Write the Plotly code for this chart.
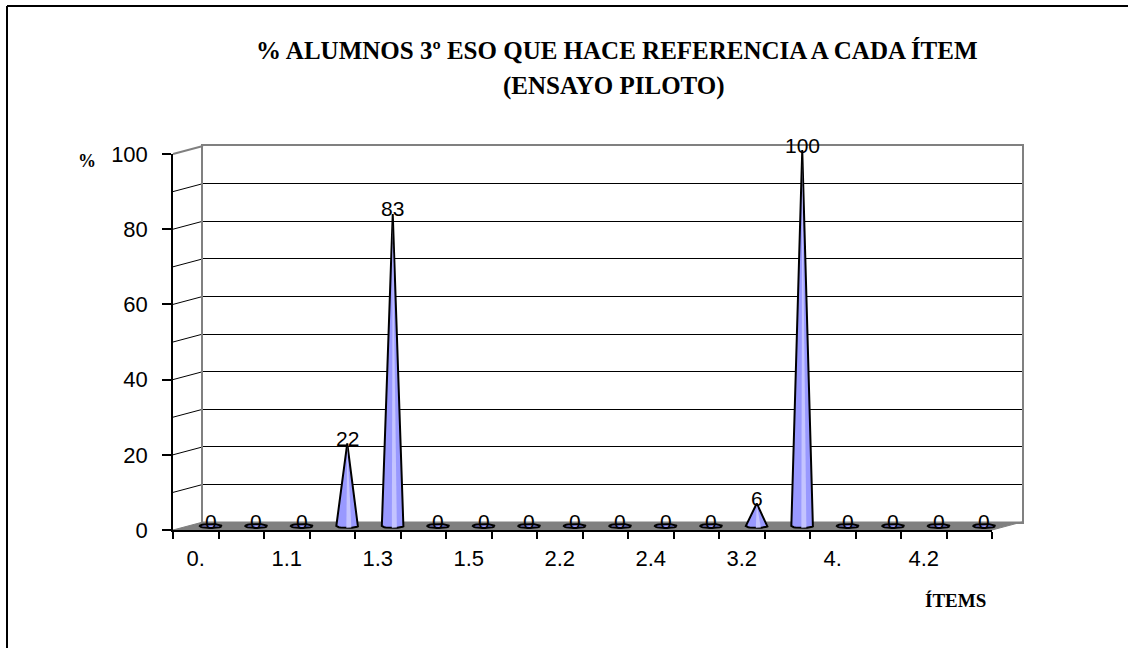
import numpy as np
import plotly.graph_objects as go

# ---- data -------------------------------------------------------------
categories = ["0.", "1.", "1.1", "1.2", "1.3", "1.4", "1.5", "2.1", "2.2",
              "2.3", "2.4", "3.1", "3.2", "3.3", "4.", "4.1", "4.2", "4.3"]
percentages = [0, 0, 0, 22, 83, 0, 0, 0, 0, 0, 0, 0, 6, 100, 0, 0, 0, 0]
y_tick_values = [0, 20, 40, 60, 80, 100]

title_line1 = "% ALUMNOS 3º ESO QUE HACE REFERENCIA A CADA ÍTEM"
title_line2 = "(ENSAYO PILOTO)"
y_title = "%"
x_title = "ÍTEMS"

# ---- page geometry (pixels) ------------------------------------------
W, H = 1128, 648
PX_PER_UNIT = 3.76            # vertical pixels per percentage point
DEPTH_DX, DEPTH_DY = 30, -8   # offset from front plane to back wall

FRONT_X0, FRONT_X1 = 173, 992
FRONT_Y0 = 530                # pixel row of value 0 on the front plane
BACK_X0, BACK_X1 = FRONT_X0 + DEPTH_DX, FRONT_X1 + DEPTH_DX
BACK_Y0 = FRONT_Y0 + DEPTH_DY
MID_X0, MID_X1 = FRONT_X0 + DEPTH_DX / 2, FRONT_X1 + DEPTH_DX / 2
MID_Y0 = FRONT_Y0 + DEPTH_DY / 2

N = len(categories)
X_RANGE = [-0.5, N - 0.5]
Y_MAX = 100


def px(x):
    return x / W


def py(y):
    return 1 - y / H


def dom_x(a, b):
    return [px(a), px(b)]


def dom_y(top, bottom):
    return [py(bottom), py(top)]


MID_PAD = 3  # extra room so the cone bases are not clipped
mid_top = MID_Y0 - (Y_MAX + MID_PAD) * PX_PER_UNIT
mid_bot = MID_Y0 + MID_PAD * PX_PER_UNIT

FONT_NUM = "Liberation Sans, Arial, sans-serif"
FONT_TITLE = "Liberation Serif, Times New Roman, serif"
CONE_FILL = "#9999ff"
CONE_LIGHT = "#c4c4ff"

fig = go.Figure()

# empty traces so the back-wall and front-axis subplots get drawn
fig.add_trace(go.Scatter(x=[None], y=[None], xaxis="x", yaxis="y",
                         hoverinfo="skip", showlegend=False))
fig.add_trace(go.Scatter(x=[None], y=[None], xaxis="x3", yaxis="y3",
                         hoverinfo="skip", showlegend=False))

# ---- cones ---------------------------------------------------------------
HALF_W = 0.24     # half base width, in category units
ELL_RY = 0.5      # half height of the base ellipse, in data units
t = np.linspace(0, np.pi, 15)

for i, v in enumerate(percentages):
    front_x = i + HALF_W * np.cos(t)
    front_y = -ELL_RY * np.sin(t)
    if v == 0:
        xs = np.concatenate([front_x, (i + HALF_W * np.cos(t))[::-1], [front_x[0]]])
        ys = np.concatenate([front_y, (ELL_RY * np.sin(t))[::-1], [front_y[0]]])
    else:
        xs = np.concatenate([[i], front_x, [i]])
        ys = np.concatenate([[v], front_y, [v]])
    fig.add_trace(go.Scatter(
        x=xs, y=ys, xaxis="x2", yaxis="y2", mode="lines",
        fill="toself", fillcolor=CONE_FILL,
        line=dict(color="black", width=2),
        hoverinfo="skip", showlegend=False,
    ))
    if v > 0:
        # soft highlight running down the face of the cone
        fig.add_trace(go.Scatter(
            x=[i, i - 0.02, i + 0.09, i], y=[v * 0.97, -0.45, -0.4, v * 0.97],
            xaxis="x2", yaxis="y2", mode="lines", fill="toself",
            fillcolor=CONE_LIGHT, line=dict(width=0),
            hoverinfo="skip", showlegend=False,
        ))

# value labels at each apex
annotations = []
for i, v in enumerate(percentages):
    annotations.append(dict(
        x=i, y=v, xref="x2", yref="y2", text=str(v), showarrow=False,
        yanchor="middle", xanchor="center", yshift=5,
        font=dict(family=FONT_NUM, size=21, color="black"),
    ))

# titles
annotations += [
    dict(x=px(617), y=py(50), xref="paper", yref="paper", text=f"<b>{title_line1}</b>",
         showarrow=False, xanchor="center", yanchor="middle",
         font=dict(family=FONT_TITLE, size=25, color="black")),
    dict(x=px(614), y=py(86), xref="paper", yref="paper", text=f"<b>{title_line2}</b>",
         showarrow=False, xanchor="center", yanchor="middle",
         font=dict(family=FONT_TITLE, size=25, color="black")),
    dict(x=px(87), y=py(161), xref="paper", yref="paper", text=f"<b>{y_title}</b>",
         showarrow=False, xanchor="center", yanchor="middle",
         font=dict(family=FONT_TITLE, size=18, color="black")),
    dict(x=px(956), y=py(600), xref="paper", yref="paper", text=f"<b>{x_title}</b>",
         showarrow=False, xanchor="center", yanchor="middle",
         font=dict(family=FONT_TITLE, size=19, color="black")),
]

# ---- 3D frame pieces -----------------------------------------------------
shapes = []
# outer chart border (top and left edges fall inside the page)
shapes.append(dict(type="line", xref="paper", yref="paper",
                   x0=px(7), y0=py(6), x1=1, y1=py(6),
                   line=dict(color="black", width=2), layer="below"))
shapes.append(dict(type="line", xref="paper", yref="paper",
                   x0=px(7), y0=py(6), x1=px(7), y1=0,
                   line=dict(color="black", width=2), layer="below"))
# floor
floor_path = (f"M {px(FRONT_X0)},{py(FRONT_Y0)} L {px(FRONT_X1)},{py(FRONT_Y0)} "
              f"L {px(BACK_X1)},{py(BACK_Y0)} L {px(BACK_X0)},{py(BACK_Y0)} Z")
shapes.append(dict(type="path", xref="paper", yref="paper", path=floor_path,
                   fillcolor="#808080", line=dict(color="#808080", width=1),
                   layer="below"))
# connectors between the front value axis and the back wall
for v in range(10, Y_MAX + 1, 10):
    y_f = FRONT_Y0 - v * PX_PER_UNIT
    y_b = BACK_Y0 - v * PX_PER_UNIT
    edge = v == Y_MAX
    shapes.append(dict(type="line", xref="paper", yref="paper",
                       x0=px(FRONT_X0), y0=py(y_f), x1=px(BACK_X0), y1=py(y_b),
                       line=dict(color="#808080" if edge else "black",
                                 width=2 if edge else 1),
                       layer="below"))

fig.update_layout(
    template="none",
    width=W, height=H,
    margin=dict(l=0, r=0, t=0, b=0, autoexpand=False),
    paper_bgcolor="white",
    plot_bgcolor="rgba(0,0,0,0)",
    showlegend=False,
    annotations=annotations,
    shapes=shapes,
    # back wall with its gridlines
    xaxis=dict(domain=dom_x(BACK_X0, BACK_X1), range=X_RANGE, anchor="y",
               automargin=False,
               showgrid=False, zeroline=False, showticklabels=False, ticks="",
               showline=True, mirror=True, linecolor="#808080", linewidth=2),
    yaxis=dict(domain=dom_y(BACK_Y0 - Y_MAX * PX_PER_UNIT, BACK_Y0), range=[0, Y_MAX],
               anchor="x", tickvals=list(range(10, Y_MAX, 10)), automargin=False,
               showgrid=True, gridcolor="black", gridwidth=1, zeroline=False,
               showticklabels=False, ticks="",
               showline=True, mirror=True, linecolor="#808080", linewidth=2),
    # mid-depth plane carrying the cones
    xaxis2=dict(domain=dom_x(MID_X0, MID_X1), range=X_RANGE, anchor="y2",
                automargin=False, visible=False),
    yaxis2=dict(domain=dom_y(mid_top, mid_bot), range=[-MID_PAD, Y_MAX + MID_PAD],
                anchor="x2", automargin=False, visible=False),
    # front plane with the visible axes
    xaxis3=dict(domain=dom_x(FRONT_X0, FRONT_X1), range=X_RANGE, anchor="y3",
                automargin=False,
                tickvals=list(range(N)),
                ticktext=[c if i % 2 == 0 else "" for i, c in enumerate(categories)],
                ticks="", showgrid=False, zeroline=False,
                showline=True, linecolor="black", linewidth=1.5,
                ticklabelstandoff=8,
                tickfont=dict(family=FONT_NUM, size=22, color="black"),
                minor=dict(tickvals=[k - 0.5 for k in range(N + 1)], ticks="outside",
                           ticklen=7, tickcolor="black", tickwidth=1.5, showgrid=False)),
    yaxis3=dict(domain=dom_y(FRONT_Y0 - Y_MAX * PX_PER_UNIT, FRONT_Y0), range=[0, Y_MAX],
                anchor="x3", automargin=False,
                tickvals=y_tick_values, ticks="outside", ticklen=9,
                tickcolor="black", tickwidth=1.5, showgrid=False, zeroline=False,
                showline=True, linecolor="black", linewidth=1.5,
                ticklabelstandoff=10,
                tickfont=dict(family=FONT_NUM, size=22, color="black")),
)

fig.write_html("out.html")
